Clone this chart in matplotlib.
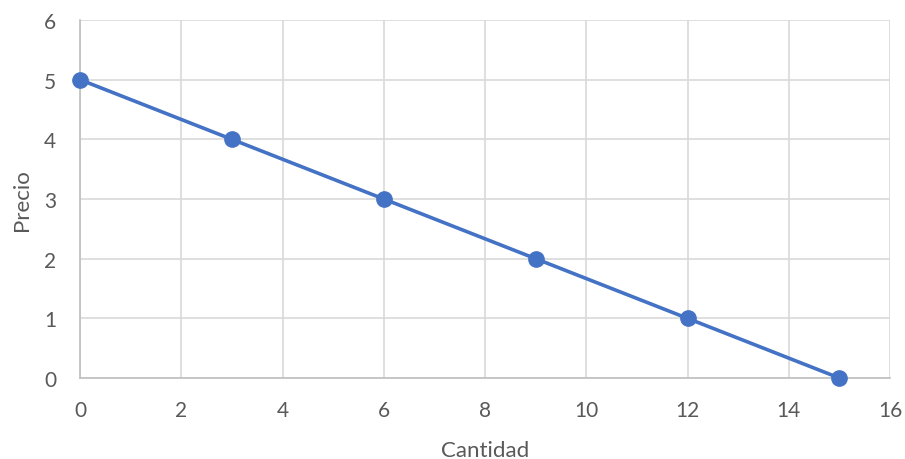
import matplotlib
matplotlib.use("Agg")
import matplotlib.pyplot as plt

cantidad = [0, 3, 6, 9, 12, 15]
precio = [5, 4, 3, 2, 1, 0]
x_ticks = [0, 2, 4, 6, 8, 10, 12, 14, 16]
y_ticks = [0, 1, 2, 3, 4, 5, 6]

plt.rcParams['font.family'] = ['Lato', 'DejaVu Sans']

fig = plt.figure(figsize=(9.05, 4.6), dpi=100)
ax = fig.add_axes([80/905, 81/460, 810/905, 358/460])

ax.plot(cantidad, precio, color='#4472C4', lw=2.6, marker='o', markersize=11,
        clip_on=False, zorder=3)

ax.set_xlim(0, 16)
ax.set_ylim(0, 6)
ax.set_xticks(x_ticks)
ax.set_yticks(y_ticks)
ax.grid(True, color='#d9d9d9', lw=1.2)
ax.set_axisbelow(True)
for s in ['top', 'right']:
    ax.spines[s].set_visible(False)
for s in ['left', 'bottom']:
    ax.spines[s].set_color('#bfbfbf')
    ax.spines[s].set_linewidth(1.2)
ax.tick_params(length=0, labelsize=15, labelcolor='#595959')
ax.tick_params(axis='y', pad=17)
ax.tick_params(axis='x', pad=16)
ax.set_xlabel('Cantidad', fontsize=16, color='#595959', labelpad=14)
ax.set_ylabel('Precio', fontsize=16, color='#595959', labelpad=9)

fig.savefig('out.png', dpi=100)
